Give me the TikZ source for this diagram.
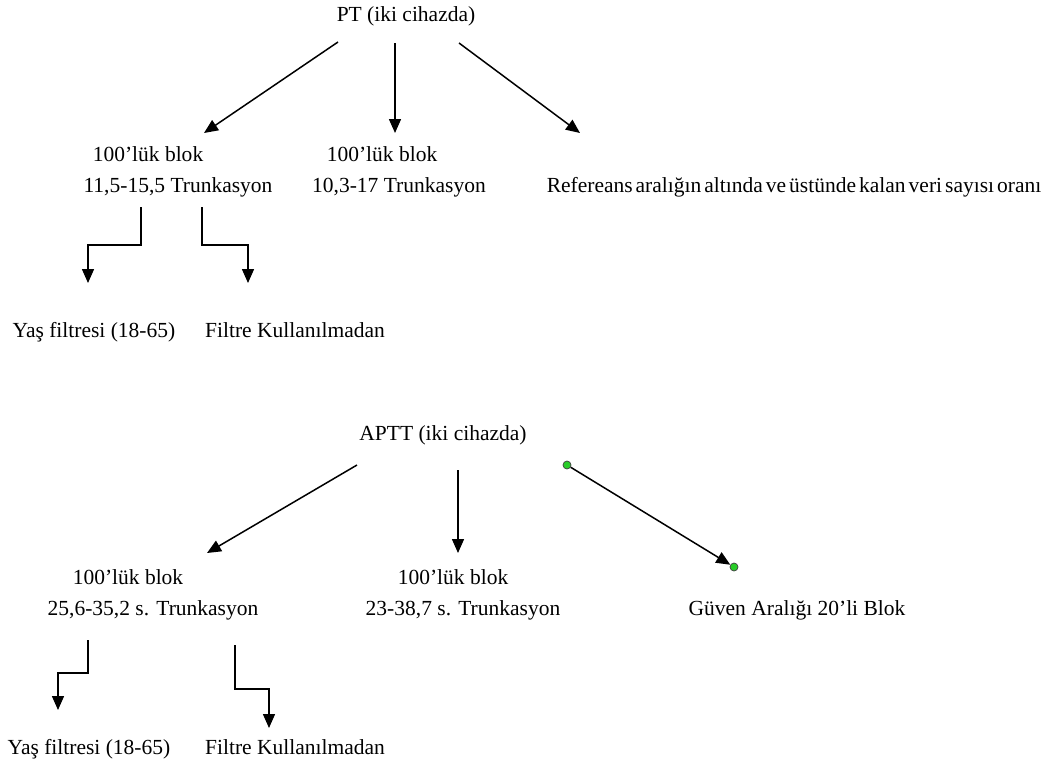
\documentclass[tikz,border=0pt]{standalone}
\usepackage{fontspec}
\setmainfont{Liberation Serif}
\usetikzlibrary{arrows.meta}
\definecolor{dotgreen}{RGB}{40,205,40}
\tikzset{
  lbl/.style={inner sep=0pt,anchor=mid,font=\fontsize{21.5}{26}\selectfont},
  arr/.style={-{Triangle[length=14pt,width=12pt]},line width=1.5pt},
  gdot/.style={circle,fill=dotgreen,draw=black!75,inner sep=0pt,minimum size=8pt,line width=0.7pt}
}
\begin{document}
\begin{tikzpicture}[x=1pt,y=-1pt]
    \useasboundingbox (0,0) rectangle (1048,769);

    % PT
    \node[lbl] (pt) at (406,19) {PT (iki cihazda)};
    \node[lbl] (blk1a) at (148,159) {100’lük blok};
    \node[lbl] (blk1b) at (178,190) {11,5-15,5 Trunkasyon};
    \node[lbl] (blk2a) at (382,159) {100’lük blok};
    \node[lbl] (blk2b) at (399,190) {10,3-17 Trunkasyon};
    \node[lbl] (ref) at (794,190) {\spaceskip=0.14em Refereans aralığın altında ve üstünde kalan veri sayısı oranı};
    \node[lbl] (yas1) at (94,335) {Yaş filtresi (18-65)};
    \node[lbl] (filt1) at (295,335) {Filtre Kullanılmadan};

    \coordinate (pt-l) at (338,42);  \coordinate (blk1-t) at (204,133);
    \coordinate (pt-m) at (395,43);  \coordinate (blk2-t) at (395,133);
    \coordinate (pt-r) at (459,43);  \coordinate (ref-t) at (580,133);
    \coordinate (blk1-l) at (141,207); \coordinate (yas1-t) at (88,283);
    \coordinate (blk1-r) at (202,207); \coordinate (filt1-t) at (248,283);

    \draw[arr] (pt-l) -- (blk1-t);
    \draw[arr] (pt-m) -- (blk2-t);
    \draw[arr] (pt-r) -- (ref-t);
    \draw[arr] (blk1-l) -- ++(0,38) -| (yas1-t);
    \draw[arr] (blk1-r) -- ++(0,38) -| (filt1-t);

    % APTT
    \node[lbl] (aptt) at (443,438) {APTT (iki cihazda)};
    \node[lbl] (blk3a) at (128,582) {100’lük blok};
    \node[lbl] (blk3b) at (153,613) {25,6-35,2 s. Trunkasyon};
    \node[lbl] (blk4a) at (453,582) {100’lük blok};
    \node[lbl] (blk4b) at (463,613) {23-38,7 s. Trunkasyon};
    \node[lbl] (guv) at (797,613) {Güven Aralığı 20’li Blok};
    \node[lbl] (yas2) at (89,752) {Yaş filtresi (18-65)};
    \node[lbl] (filt2) at (295,752) {Filtre Kullanılmadan};

    \coordinate (aptt-l) at (357,465); \coordinate (blk3-t) at (207,553);
    \coordinate (aptt-m) at (458,470); \coordinate (blk4-t) at (458,553);
    \node[gdot] (aptt-r) at (567,465) {};
    \node[gdot] (guv-t) at (734,567) {};
    \coordinate (blk3-l) at (88,640);  \coordinate (yas2-t) at (58,710);
    \coordinate (blk3-r) at (235,645); \coordinate (filt2-t) at (269,728);

    \draw[arr] (aptt-l) -- (blk3-t);
    \draw[arr] (aptt-m) -- (blk4-t);
    \draw[arr] (aptt-r) -- (guv-t);
    \draw[arr] (blk3-l) -- ++(0,33) -| (yas2-t);
    \draw[arr] (blk3-r) -- ++(0,44) -| (filt2-t);
\end{tikzpicture}
\end{document}
